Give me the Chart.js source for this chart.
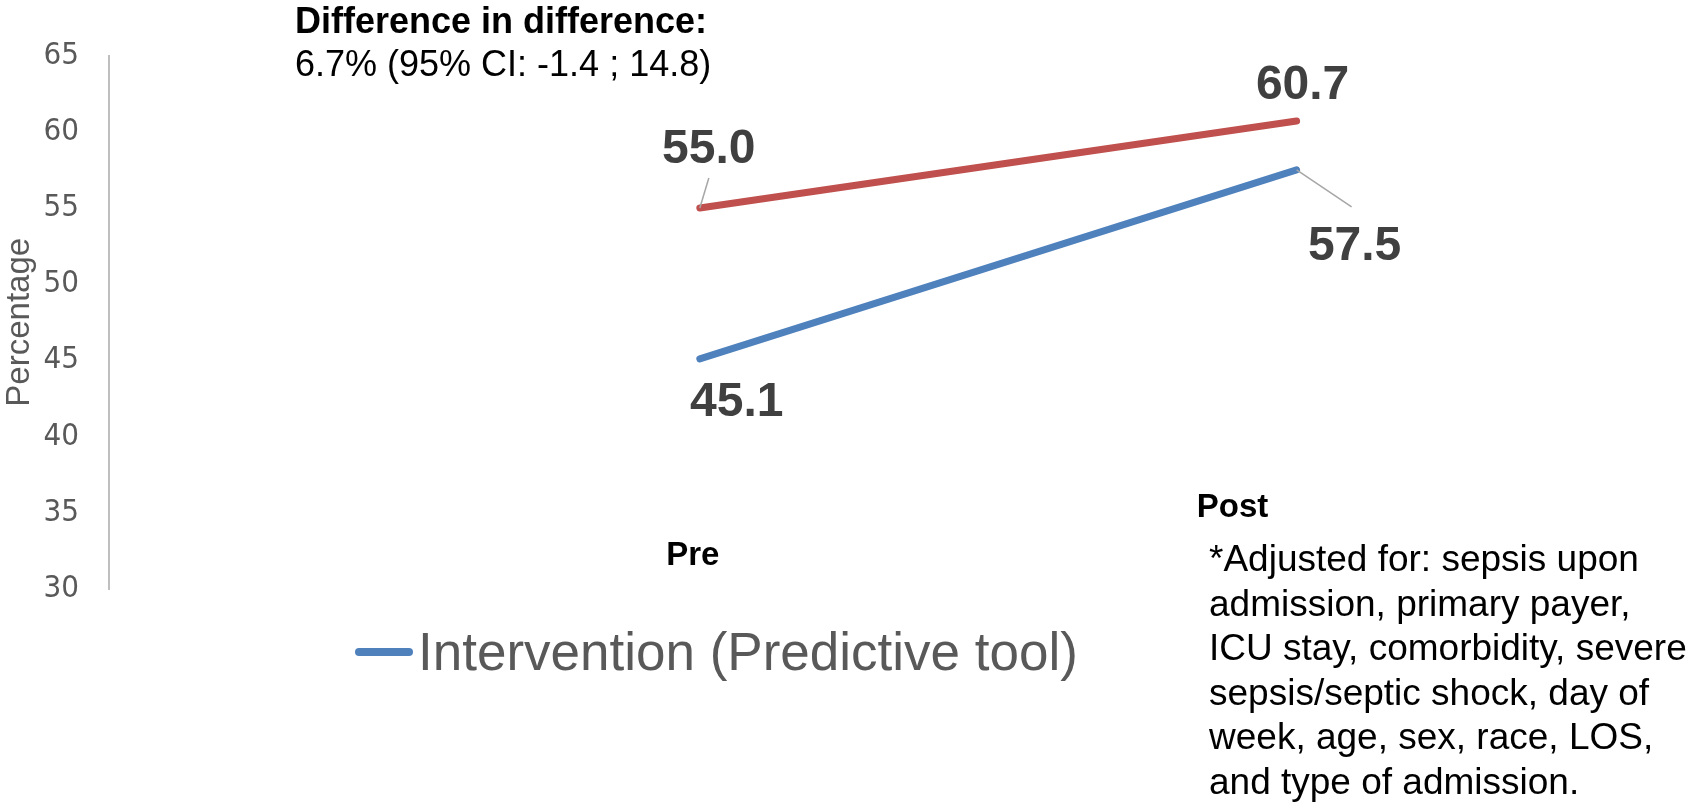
<!DOCTYPE html>
<html>
<head>
<meta charset="utf-8">
<script src="https://cdn.jsdelivr.net/npm/chart.js@4.4.1/dist/chart.umd.min.js"></script>
<style>
  body { margin: 0; background: #fff; }
  #wrap { width: 1695px; height: 804px; }
</style>
</head>
<body>
<div id="wrap"><canvas id="did" width="1695" height="804"></canvas></div>
<script>
const ctx = document.getElementById("did");

// data
const categories = ["Pre", "Post"];
const interventionValues = [45.1, 57.5];
const controlValues = [55.0, 60.7];
const yTickValues = [30, 35, 40, 45, 50, 55, 60, 65];

const titleLines = ["Difference in difference:", "6.7% (95% CI: -1.4 ; 14.8)"];
const footnoteLines = [
  "*Adjusted for: sepsis upon",
  "admission, primary payer,",
  "ICU stay, comorbidity, severe",
  "sepsis/septic shock, day of",
  "week, age, sex, race, LOS,",
  "and type of admission.",
];

const FONT = '"Liberation Sans", Arial, sans-serif';
const NARROW = '"Liberation Sans Narrow", "Arial Narrow", "DejaVu Sans Condensed", "Liberation Sans", sans-serif';
const BLUE = "#4F81BD";
const RED = "#C0504D";

// where the value labels sit, relative to their point (baseline)
const valueLabelPos = [
  [{ dx: 37, dy: 57 }, { dx: 58, dy: 90, leader: [55, 37] }],
  [{ dx: 9, dy: -45, leader: [9, -30] }, { dx: 6, dy: -22 }],
];
// category labels: x offset from the point, baseline y
const catLabelPos = [{ dx: -7, y: 565 }, { dx: -64, y: 517 }];

const annotations = {
  id: "annotations",
  afterDatasetsDraw(chart) {
    const c = chart.ctx;
    c.save();
    chart.data.datasets.forEach((ds, di) => {
      const meta = chart.getDatasetMeta(di);
      meta.data.forEach((pt, i) => {
        const pos = valueLabelPos[di][i];
        if (pos.leader) {
          c.strokeStyle = "#A6A6A6";
          c.lineWidth = 1.5;
          c.beginPath();
          c.moveTo(pt.x, pt.y);
          c.lineTo(pt.x + pos.leader[0], pt.y + pos.leader[1]);
          c.stroke();
        }
        c.font = "bold 48px " + FONT;
        c.fillStyle = "#404040";
        c.textAlign = "center";
        c.textBaseline = "alphabetic";
        c.fillText(ds.data[i].y.toFixed(1), pt.x + pos.dx, pt.y + pos.dy);
      });
    });
    c.restore();
  },
  afterDraw(chart) {
    const c = chart.ctx;
    const xs = chart.scales.x;
    c.save();
    c.textBaseline = "alphabetic";
    c.fillStyle = "#000";

    // title
    c.textAlign = "left";
    c.font = "bold 36px " + FONT;
    c.fillText(titleLines[0], 295, 33);
    c.font = "36px " + FONT;
    c.fillText(titleLines[1], 295, 76);

    // category labels
    c.font = "bold 33px " + FONT;
    c.textAlign = "center";
    categories.forEach((cat, i) => {
      c.fillText(cat, xs.getPixelForValue(i) + catLabelPos[i].dx, catLabelPos[i].y);
    });

    // footnote
    c.textAlign = "left";
    c.font = "37px " + FONT;
    footnoteLines.forEach((line, i) => {
      c.fillText(line, 1209, 571 + i * 44.6);
    });

    // legend (only the intervention series is shown)
    const ds = chart.data.datasets[0];
    c.strokeStyle = ds.borderColor;
    c.lineWidth = 8;
    c.lineCap = "round";
    c.beginPath();
    c.moveTo(359, 652);
    c.lineTo(409, 652);
    c.stroke();
    c.fillStyle = "#595959";
    c.font = "53px " + FONT;
    c.fillText(ds.label, 418, 670);
    c.restore();
  },
};

const didChart = new Chart(ctx, {
  type: "line",
  data: {
    datasets: [
      {
        label: "Intervention (Predictive tool)",
        data: interventionValues.map((v, i) => ({ x: i, y: v })),
        borderColor: BLUE,
        backgroundColor: BLUE,
        borderWidth: 7,
        borderCapStyle: "round",
        pointRadius: 0,
        tension: 0,
      },
      {
        label: "Control",
        data: controlValues.map((v, i) => ({ x: i, y: v })),
        borderColor: RED,
        backgroundColor: RED,
        borderWidth: 7,
        borderCapStyle: "round",
        pointRadius: 0,
        tension: 0,
      },
    ],
  },
  options: {
    responsive: false,
    animation: false,
    devicePixelRatio: 1,
    layout: {
      padding: { left: 0, top: 55.5, right: 100, bottom: 215 },
    },
    plugins: {
      legend: { display: false },
      tooltip: { enabled: false },
    },
    scales: {
      x: {
        type: "linear",
        display: false,
        min: -0.99,
        max: 1.5,
      },
      y: {
        min: 30,
        max: 65,
        afterBuildTicks: (scale) => {
          scale.ticks = yTickValues.map((v) => ({ value: v }));
        },
        afterFit: (scale) => {
          scale.width = 109;
        },
        grid: { display: false, drawTicks: false },
        border: { display: true, color: "#BFBFBF", width: 2 },
        ticks: {
          padding: 30,
          color: "#595959",
          font: { family: NARROW, size: 31 },
        },
        title: {
          display: true,
          text: "Percentage",
          color: "#595959",
          padding: 0,
          font: { family: FONT, size: 33 },
        },
      },
    },
  },
  plugins: [annotations],
});
</script>
</body>
</html>
